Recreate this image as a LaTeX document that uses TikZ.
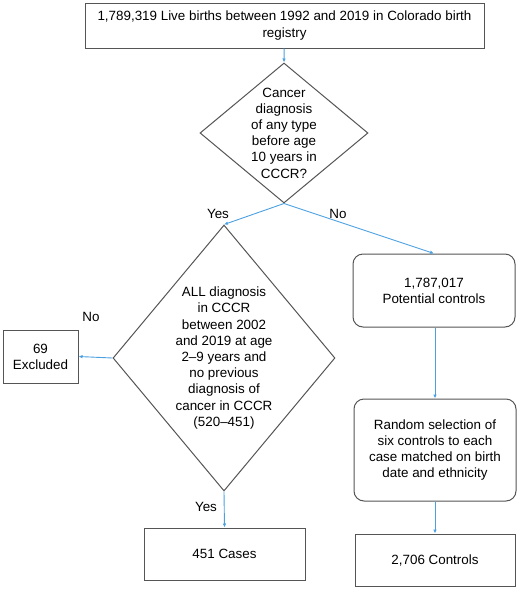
\documentclass[tikz,border=0pt]{standalone}
\usepackage{fontspec}
\setmainfont{Liberation Sans}
\usetikzlibrary{arrows.meta, positioning, shapes.geometric}

\definecolor{flowblue}{RGB}{75,160,225}
\definecolor{framegray}{RGB}{85,85,85}

\begin{document}
\begin{tikzpicture}[x=1pt, y=-1pt,
    font=\fontsize{13.4}{16.2}\selectfont,
    box/.style={draw=framegray, line width=1pt, align=center, inner sep=0pt},
    rbox/.style={box, rounded corners=10pt},
    decision/.style={draw=framegray, line width=1pt, diamond, inner sep=0pt},
    flow/.style={->, draw=flowblue, line width=0.9pt, >={Latex[length=4pt, width=3.5pt]}},
    ]
    \useasboundingbox (0,0) rectangle (520,590);

    % Births
    \node[box, minimum width=399pt, minimum height=45pt] at (284.5,25.5) (births)
        {1,789,319 Live births between 1992 and 2019 in Colorado birth\\registry};

    % First decision
    \node[decision, minimum width=168pt, minimum height=140pt] at (284,133) (anycancer) {};
    \node[align=center, inner sep=0pt] at (anycancer.center)
        {Cancer\\diagnosis\\of any type\\before age\\10 years in\\CCCR?};

    % Second decision
    \node[decision, minimum width=222pt, minimum height=266pt] at (224,358) (alldx) {};
    \node[align=center, inner sep=0pt] at (alldx.center)
        {ALL diagnosis\\in CCCR\\between 2002\\and 2019 at age\\2--9 years and\\no previous\\diagnosis of\\cancer in CCCR\\(520--451)};

    % Left column
    \node[box, minimum width=75pt, minimum height=53pt] at (40.5,356.5) (excluded) {69\\Excluded};
    \node[box, minimum width=161pt, minimum height=52pt] at (224.5,554) (cases) {451 Cases};

    % Right column
    \node[rbox, minimum width=162pt, minimum height=73pt] at (434,290.5) (potential) {1,787,017\\Potential controls};
    \node[rbox, minimum width=162pt, minimum height=102pt] at (435,450) (random)
        {Random selection of\\six controls to each\\case matched on birth\\date and ethnicity};
    \node[box, minimum width=160pt, minimum height=52pt] at (435,560) (controls) {2,706 Controls};

    % Arrows
    \draw[flow] (births) -- (anycancer.north);
    \draw[flow] (anycancer.south) -- (alldx.north);
    \draw[flow] (anycancer.south) -- (potential.north);
    \draw[flow] (alldx.west) -- (excluded.east);
    \draw[flow] (alldx.south) -- (cases.north);
    \draw[flow] (potential.south -| random.north) -- (random.north);
    \draw[flow] (random) -- (controls);

    % Branch labels
    \node at (218,214) {Yes};
    \node at (338,214) {No};
    \node at (91,317) {No};
    \node at (206,507) {Yes};
\end{tikzpicture}
\end{document}
